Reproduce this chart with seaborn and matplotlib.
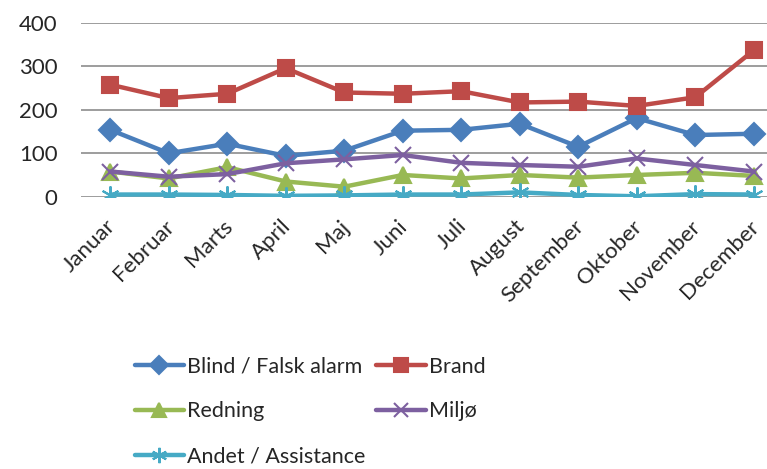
import numpy as np
import pandas as pd
import matplotlib
matplotlib.use("Agg")
import matplotlib.pyplot as plt
import matplotlib.transforms as mtransforms
import seaborn as sns

months = ["Januar", "Februar", "Marts", "April", "Maj", "Juni", "Juli",
          "August", "September", "Oktober", "November", "December"]
blind = [154, 100, 122, 94, 106, 152, 154, 168, 115, 181, 142, 145]
brand = [258, 227, 237, 296, 240, 237, 243, 217, 219, 209, 229, 337]
redning = [58, 42, 68, 35, 23, 50, 42, 50, 44, 50, 55, 48]
miljo = [58, 46, 52, 77, 86, 96, 78, 73, 69, 88, 73, 58]
andet = [5, 5, 4, 2, 3, 5, 5, 10, 4, 1, 6, 5]

series = {
    "Blind / Falsk alarm": (blind, "#4A7EBB", "D", 11),
    "Brand": (brand, "#BE4B48", "s", 12),
    "Redning": (redning, "#98B954", "^", 12),
    "Miljø": (miljo, "#7D60A0", "x", 12),
    "Andet / Assistance": (andet, "#46AAC5", (6, 2, 0), 13),
}

sns.set_style("white")
plt.rcParams['font.family'] = ['Lato', 'DejaVu Sans']

fig = plt.figure(figsize=(7.67, 4.69), dpi=100)
ax = fig.add_axes([81 / 767, 1 - 196.7 / 469, 702 / 767, 173.7 / 469])

x = np.arange(len(months))
handles = {}
for name, (vals, col, mk, ms) in series.items():
    df = pd.DataFrame({"x": x, "y": vals})
    sns.lineplot(data=df, x="x", y="y", ax=ax, color=col, lw=3.2,
                 marker=mk, markersize=ms, markeredgecolor=col,
                 markeredgewidth=1.5, label=name, legend=False)
    handles[name] = ax.lines[-1]

ax.set_xlim(-0.5, 11.5)
ax.set_ylim(0, 400)
ax.set_yticks([0, 100, 200, 300, 400])
ax.set_xticks(x)
ax.set_xticklabels(months, rotation=45, ha="right", rotation_mode="anchor")
ax.tick_params(axis="both", labelsize=16, length=0)
ax.tick_params(axis="y", pad=17)
ax.tick_params(axis="x", pad=14)
shift = mtransforms.ScaledTranslation(-5 / 100, 0, fig.dpi_scale_trans)
for lab in ax.get_xticklabels():
    lab.set_transform(lab.get_transform() + shift)
ax.yaxis.grid(True, color="#8c8c8c", lw=1.2)
ax.set_axisbelow(True)
for s in ax.spines.values():
    s.set_visible(False)
ax.set_xlabel("")
ax.set_ylabel("")

order = ["Blind / Falsk alarm", "Redning", "Andet / Assistance", "Brand", "Miljø"]
fig.legend([handles[n] for n in order], order, ncol=2, frameon=False,
           loc="upper left", bbox_to_anchor=(126 / 767, 1 - 348 / 469),
           fontsize=15.5, handlelength=2.3, handletextpad=0.15,
           columnspacing=0.5, labelspacing=1.15, borderaxespad=0,
           markerscale=0.85)

fig.savefig("out.png", dpi=100)
